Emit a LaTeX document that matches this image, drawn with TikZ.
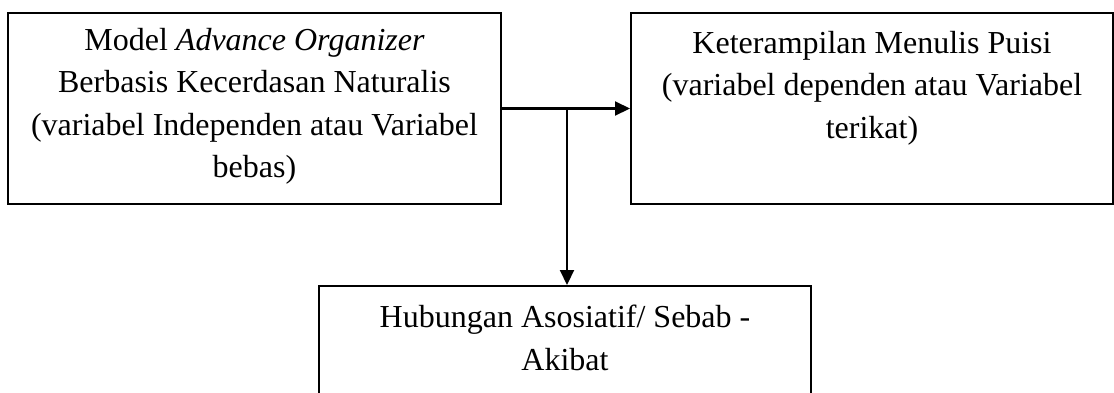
\documentclass[tikz,border=0pt]{standalone}
\usepackage{fontspec}
\setmainfont{Liberation Serif}
\usetikzlibrary{arrows.meta}

\begin{document}
\begin{tikzpicture}[x=1pt,y=-1pt,
  box/.style={draw,rectangle,line width=2pt,inner sep=0pt},
  label/.style={anchor=north,inner sep=0pt,align=center,
    font=\fontsize{32}{42.3}\selectfont},
  link/.style={line width=2.1pt,-{Triangle[length=15pt,width=14pt]}}]
\useasboundingbox (0,0) rectangle (1114,392);

% frames
\node[box,minimum width=493pt,minimum height=191pt] (lbox) at (254.5,108.5) {};
\node[box,minimum width=482pt,minimum height=191pt] (rbox) at (872,108.5) {};
\node[box,minimum width=492pt,minimum height=134pt] (bbox) at (565,353) {};

% texts
\node[label] (ltext) at (254.5,28)
  {Model \textit{Advance Organizer}\\Berbasis Kecerdasan Naturalis\\(variabel Independen atau Variabel\\bebas)};
\node[label] (rtext) at (872,31)
  {Keterampilan Menulis Puisi\\(variabel dependen atau Variabel\\terikat)};
\node[label] (btext) at (565,305)
  {Hubungan Asosiatif/ Sebab -\\Akibat};

% connectors
\draw[link] (lbox.east) -- (rbox.west);
\coordinate (split) at (567,108.5);
\draw[link] (split) -- (split |- bbox.north);
\end{tikzpicture}
\end{document}
